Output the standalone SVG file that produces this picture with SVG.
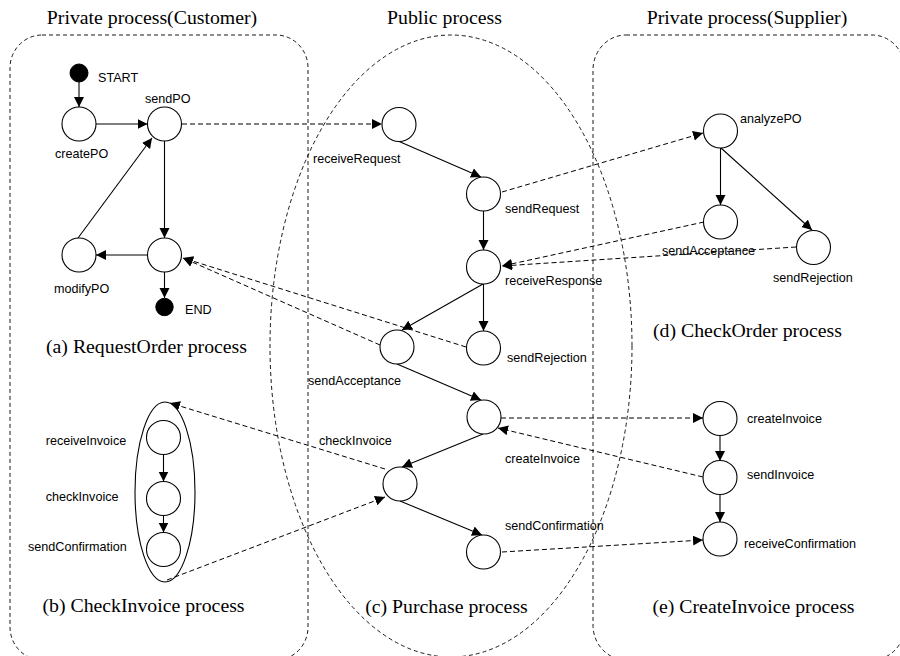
<svg xmlns="http://www.w3.org/2000/svg" width="900" height="656" viewBox="0 0 900 656">
  <defs>
    <marker id="arrow" markerUnits="userSpaceOnUse" markerWidth="11" markerHeight="11" refX="10" refY="5" orient="auto">
      <path d="M0,0 L10,5 L0,10 Z" fill="#000"/>
    </marker>
  </defs>
  <style>
    .region { fill: none; stroke: #000; stroke-width: 0.9; stroke-dasharray: 4 3; }
    .flow { fill: none; stroke: #000; stroke-width: 1.1; marker-end: url(#arrow); }
    .msg { fill: none; stroke: #000; stroke-width: 1; stroke-dasharray: 5 3; marker-end: url(#arrow); }
    .node { fill: #fff; stroke: #000; stroke-width: 1.1; }
    .dot { fill: #000; stroke: #000; }
    .lbl { font-family: "Liberation Sans", Arial, sans-serif; font-size: 12.6px; fill: #000; }
    .title { font-family: "Liberation Serif", "Times New Roman", serif; font-size: 19.8px; fill: #000; text-anchor: middle; }
  </style>
  <rect width="900" height="656" fill="#fff"/>

  <!-- process areas -->
  <g id="regions">
    <rect class="region" x="10" y="35" width="298" height="625" rx="32" ry="33"/>
    <ellipse class="region" cx="451" cy="346" rx="181" ry="311"/>
    <rect class="region" x="593" y="35" width="312" height="625" rx="33" ry="35"/>
  </g>

  <!-- section titles -->
  <g id="titles">
    <text class="title" x="152" y="24">Private process(Customer)</text>
    <text class="title" x="444.5" y="24">Public process</text>
    <text class="title" x="747" y="24">Private process(Supplier)</text>
    <text class="title" x="146.5" y="353">(a) RequestOrder process</text>
    <text class="title" x="143.5" y="612">(b) CheckInvoice process</text>
    <text class="title" x="446.5" y="613">(c) Purchase process</text>
    <text class="title" x="747.5" y="337">(d) CheckOrder process</text>
    <text class="title" x="753.5" y="613">(e) CreateInvoice process</text>
  </g>

  <!-- connectors -->
  <g id="connectors">
    <!-- RequestOrder -->
    <line class="flow" x1="79" y1="82" x2="79" y2="107"/>
    <line class="flow" x1="96" y1="124" x2="147.5" y2="124"/>
    <line class="flow" x1="78" y1="238" x2="152" y2="138"/>
    <line class="flow" x1="164.5" y1="141" x2="164.5" y2="238"/>
    <line class="flow" x1="147.5" y1="255" x2="96" y2="255"/>
    <line class="flow" x1="164.5" y1="272" x2="164.5" y2="298"/>
    <!-- CheckInvoice -->
    <line class="flow" x1="163.5" y1="454.5" x2="163.5" y2="481.5"/>
    <line class="flow" x1="163.5" y1="515.5" x2="163.5" y2="532.5"/>
    <!-- Purchase -->
    <line class="flow" x1="398" y1="141" x2="481" y2="177"/>
    <line class="flow" x1="483.5" y1="211" x2="483.5" y2="250"/>
    <line class="flow" x1="483" y1="284" x2="402" y2="330"/>
    <line class="flow" x1="483.5" y1="284" x2="483.5" y2="331"/>
    <line class="flow" x1="397" y1="364" x2="481" y2="400"/>
    <line class="flow" x1="483" y1="434" x2="402" y2="467"/>
    <line class="flow" x1="400" y1="501" x2="482" y2="535"/>
    <!-- CheckOrder -->
    <line class="flow" x1="720.5" y1="148" x2="720.5" y2="205"/>
    <line class="flow" x1="721" y1="148" x2="812" y2="230"/>
    <!-- CreateInvoice -->
    <line class="flow" x1="720" y1="435" x2="720" y2="461"/>
    <line class="flow" x1="720" y1="495" x2="720" y2="522"/>
    <!-- messages between processes -->
    <line class="msg" x1="182" y1="124" x2="382" y2="124"/>
    <line class="msg" x1="502" y1="192" x2="703" y2="133"/>
    <line class="msg" x1="704" y1="222" x2="502" y2="266"/>
    <line class="msg" x1="796" y1="247" x2="502" y2="266"/>
    <line class="msg" x1="380" y1="345" x2="183" y2="258"/>
    <line class="msg" x1="466" y1="347" x2="183" y2="258"/>
    <line class="msg" x1="501" y1="418" x2="703" y2="418"/>
    <line class="msg" x1="703" y1="477" x2="498" y2="428"/>
    <line class="msg" x1="385" y1="469" x2="170" y2="403"/>
    <line class="msg" x1="167" y1="580" x2="385" y2="497"/>
    <line class="msg" x1="502" y1="552" x2="703" y2="540"/>
  </g>

  <!-- customer: RequestOrder -->
  <g id="start"><circle class="dot" cx="79" cy="73" r="9"/><text class="lbl" x="98" y="82">START</text></g>
  <g id="createPO"><circle class="node" cx="79" cy="124" r="17"/><text class="lbl" x="55" y="158">createPO</text></g>
  <g id="sendPO"><circle class="node" cx="164.5" cy="124" r="17"/><text class="lbl" x="145" y="103">sendPO</text></g>
  <g id="decidePO"><circle class="node" cx="164.5" cy="255" r="17"/></g>
  <g id="modifyPO"><circle class="node" cx="79" cy="255" r="17"/><text class="lbl" x="54" y="293">modifyPO</text></g>
  <g id="end"><circle class="dot" cx="164.5" cy="307" r="8.7"/><text class="lbl" x="185" y="314">END</text></g>

  <!-- customer: CheckInvoice -->
  <g id="checkInvoiceScope"><ellipse fill="none" stroke="#000" stroke-width="1.1" cx="165" cy="492" rx="30" ry="90"/></g>
  <g id="receiveInvoice"><circle class="node" cx="163.5" cy="437.5" r="17"/><text class="lbl" x="45.7" y="445">receiveInvoice</text></g>
  <g id="checkInvoice"><circle class="node" cx="163.5" cy="498.5" r="17"/><text class="lbl" x="45.7" y="501">checkInvoice</text></g>
  <g id="sendConfirmation"><circle class="node" cx="163.5" cy="549.5" r="17"/><text class="lbl" x="28" y="551">sendConfirmation</text></g>

  <!-- public: Purchase -->
  <g id="p-receiveRequest"><circle class="node" cx="399" cy="124.5" r="17"/><text class="lbl" x="313" y="163">receiveRequest</text></g>
  <g id="p-sendRequest"><circle class="node" cx="483.5" cy="194" r="17"/><text class="lbl" x="505" y="213">sendRequest</text></g>
  <g id="p-receiveResponse"><circle class="node" cx="483.5" cy="267" r="17"/><text class="lbl" x="505" y="285">receiveResponse</text></g>
  <g id="p-sendAcceptance"><circle class="node" cx="397" cy="347" r="17"/><text class="lbl" x="308" y="385">sendAcceptance</text></g>
  <g id="p-sendRejection"><circle class="node" cx="483.5" cy="348" r="17"/><text class="lbl" x="507" y="362">sendRejection</text></g>
  <g id="p-createInvoice"><circle class="node" cx="484" cy="417" r="17"/><text class="lbl" x="505" y="463">createInvoice</text></g>
  <g id="p-checkInvoice"><circle class="node" cx="400" cy="484" r="17"/><text class="lbl" x="319" y="445">checkInvoice</text></g>
  <g id="p-sendConfirmation"><circle class="node" cx="483.5" cy="552" r="17"/><text class="lbl" x="505" y="530">sendConfirmation</text></g>

  <!-- supplier: CheckOrder -->
  <g id="analyzePO"><circle class="node" cx="720.5" cy="131" r="17"/><text class="lbl" x="740" y="123">analyzePO</text></g>
  <g id="s-sendAcceptance"><circle class="node" cx="720.5" cy="222" r="17"/><text class="lbl" x="662" y="255">sendAcceptance</text></g>
  <g id="s-sendRejection"><circle class="node" cx="813.5" cy="247.5" r="17"/><text class="lbl" x="773" y="282">sendRejection</text></g>

  <!-- supplier: CreateInvoice -->
  <g id="s-createInvoice"><circle class="node" cx="720" cy="418.5" r="17"/><text class="lbl" x="747" y="423">createInvoice</text></g>
  <g id="s-sendInvoice"><circle class="node" cx="720" cy="477.5" r="17"/><text class="lbl" x="747" y="479">sendInvoice</text></g>
  <g id="s-receiveConfirmation"><circle class="node" cx="720" cy="539" r="17"/><text class="lbl" x="744" y="548">receiveConfirmation</text></g>
</svg>
